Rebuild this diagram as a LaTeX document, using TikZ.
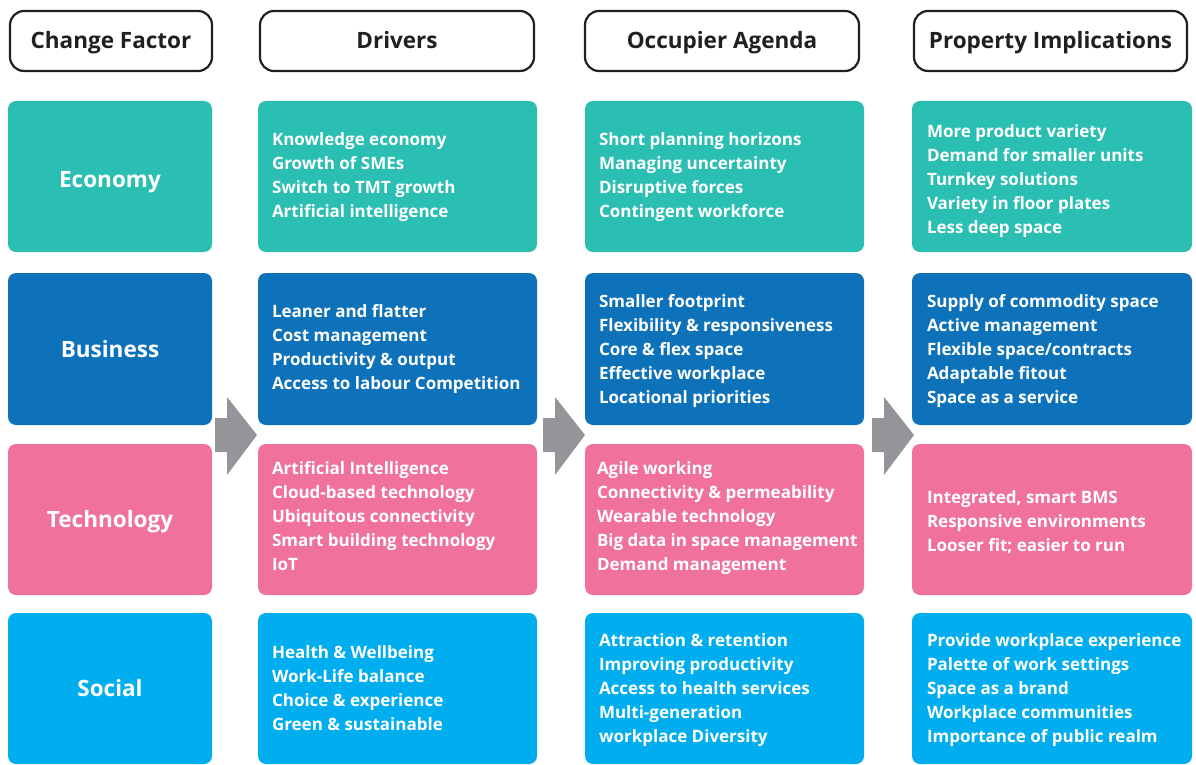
\documentclass[tikz,border=0pt]{standalone}
\usepackage{fontspec}
\setmainfont{Open Sans}
\begin{document}
\begin{tikzpicture}[x=1pt,y=-1pt,
  hdr/.style={draw=ink,line width=2.2pt,rounded corners=14pt,fill=white,
    text=ink,font=\fontsize{22.5}{26}\selectfont\bfseries,inner sep=0pt,
    text height=17pt,text depth=1pt},
  factor/.style={rounded corners=8pt,text=white,inner sep=0pt,
    font=\fontsize{22.5}{26}\selectfont\bfseries,text height=17pt,text depth=1pt},
  cellbox/.style={rounded corners=8pt,inner sep=0pt},
  celltext/.style={anchor=west,text=white,inner sep=0pt,align=left,
    font=\fontsize{17}{24}\selectfont\bfseries},
  flow/.style={fill=arrowgrey,draw=none}]
\definecolor{ink}{HTML}{231F20}
\definecolor{econ}{HTML}{2BBFB3}
\definecolor{busi}{HTML}{0E72BA}
\definecolor{tech}{HTML}{F0719C}
\definecolor{soci}{HTML}{00AEEF}
\definecolor{arrowgrey}{HTML}{939598}
\useasboundingbox (0,0) rectangle (1196,765);

% column headers
\node[hdr,minimum width=202pt,minimum height=60pt] (h1) at (111,41) {Change Factor};
\node[hdr,minimum width=274pt,minimum height=60pt] (h2) at (397,41) {Drivers};
\node[hdr,minimum width=274pt,minimum height=60pt] (h3) at (722,41) {Occupier Agenda};
\node[hdr,minimum width=273pt,minimum height=60pt] (h4) at (1050.5,41) {Property Implications};

% change factors
\node[factor,fill=econ,minimum width=204pt,minimum height=151pt] (f1) at (110,176.5) {};
\node (f1t) [factor] at ([yshift=-3pt]f1.center) {Economy};
\node[factor,fill=busi,minimum width=204pt,minimum height=152pt] (f2) at (110,349) {Business};
\node[factor,fill=tech,minimum width=204pt,minimum height=151pt] (f3) at (110,519.5) {Technology};
\node[factor,fill=soci,minimum width=204pt,minimum height=151pt] (f4) at (110,688.5) {Social};

% boxes of the three right-hand columns
\foreach \c/\x/\w in {d/397.5/279,o/724.5/279,p/1052/280}{
  \node[cellbox,fill=econ,minimum width=\w pt,minimum height=151pt] (\c1) at (\x,176.5) {};
  \node[cellbox,fill=busi,minimum width=\w pt,minimum height=152pt] (\c2) at (\x,349) {};
  \node[cellbox,fill=tech,minimum width=\w pt,minimum height=151pt] (\c3) at (\x,519.5) {};
  \node[cellbox,fill=soci,minimum width=\w pt,minimum height=151pt] (\c4) at (\x,688.5) {};
}

% drivers
\node[celltext] (d1t) at ([xshift=14pt,yshift=-1pt]d1.west)
  {Knowledge economy\\Growth of SMEs\\Switch to TMT growth\\Artificial intelligence};
\node[celltext] (d2t) at ([xshift=14pt]d2.west)
  {Leaner and flatter\\Cost management\\Productivity \& output\\Access to labour Competition};
\node[celltext] (d3t) at ([xshift=14pt,yshift=3pt]d3.west)
  {Artificial Intelligence\\Cloud-based technology\\Ubiquitous connectivity\\Smart building technology\\IoT};
\node[celltext] (d4t) at ([xshift=14pt]d4.west)
  {Health \& Wellbeing\\Work-Life balance\\Choice \& experience\\Green \& sustainable};

% occupier agenda
\node[celltext] (o1t) at ([xshift=14pt,yshift=-1pt]o1.west)
  {Short planning horizons\\Managing uncertainty\\Disruptive forces\\Contingent workforce};
\node[celltext] (o2t) at ([xshift=14pt,yshift=-2pt]o2.west)
  {Smaller footprint\\Flexibility \& responsiveness\\Core \& flex space\\Effective workplace\\Locational priorities};
\node[celltext] (o3t) at ([xshift=12pt,yshift=1pt]o3.west)
  {Agile working\\Connectivity \& permeability\\Wearable technology\\Big data in space management\\Demand management};
\node[celltext] (o4t) at ([xshift=14pt,yshift=-2pt]o4.west)
  {Attraction \& retention\\Improving productivity\\Access to health services\\Multi-generation\\workplace Diversity};

% property implications
\node[celltext] (p1t) at ([xshift=15pt,yshift=-5pt]p1.west)
  {More product variety\\Demand for smaller units\\Turnkey solutions\\Variety in floor plates\\Less deep space};
\node[celltext] (p2t) at ([xshift=15pt,yshift=-2pt]p2.west)
  {Supply of commodity space\\Active management\\Flexible space/contracts\\Adaptable fitout\\Space as a service};
\node[celltext] (p3t) at ([xshift=15pt,yshift=-3pt]p3.west)
  {Integrated, smart BMS\\Responsive environments\\Looser fit; easier to run};
\node[celltext] (p4t) at ([xshift=15pt,yshift=-2pt]p4.west)
  {Provide workplace experience\\Palette of work settings\\Space as a brand\\Workplace communities\\Importance of public realm};

% flow arrows between the columns
\foreach \x in {215,543,872}{
  \fill[flow] (\x,418) -- (\x+12,418) -- (\x+12,397) -- (\x+42,435)
    -- (\x+12,475) -- (\x+12,452) -- (\x,452) -- cycle;
}
\end{tikzpicture}
\end{document}
